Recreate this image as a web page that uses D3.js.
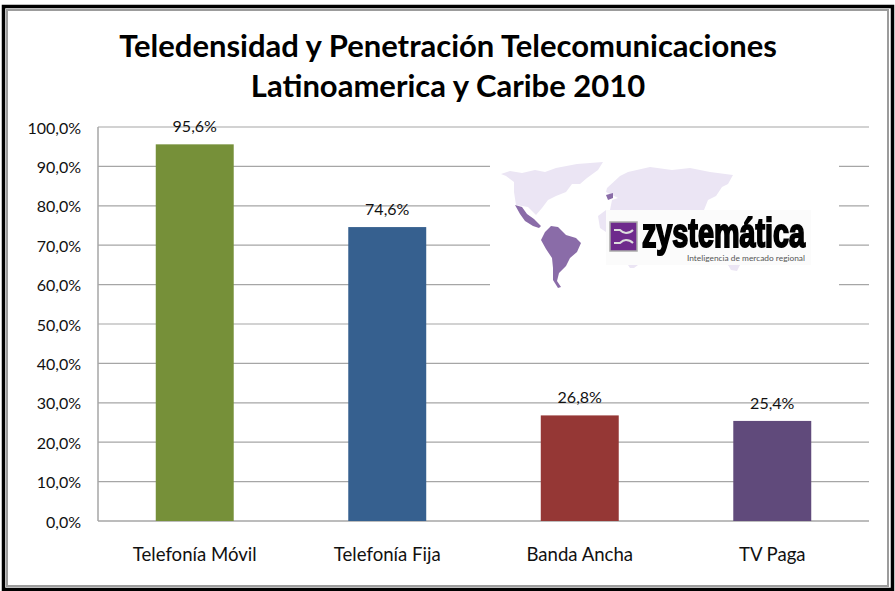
<!DOCTYPE html>
<html><head><meta charset="utf-8">
<script src="https://cdn.jsdelivr.net/npm/d3@7/dist/d3.min.js"></script>
<style>html,body{margin:0;padding:0;background:#fff}svg{display:block}text{font-family:Lato,"Open Sans",sans-serif}</style>
</head><body><svg id="c" width="895" height="591"></svg>
<script>
const categories = ["Telefonía Móvil","Telefonía Fija","Banda Ancha","TV Paga"];
const values = [95.6,74.6,26.8,25.4];
const valueLabels = ["95,6%","74,6%","26,8%","25,4%"];
const barColors = ["#769039","#36608f","#953735","#604a7b"];
const yTicks = [0,10,20,30,40,50,60,70,80,90,100];
const titleLines = ["Teledensidad y Penetración Telecomunicaciones","Latinoamerica y Caribe 2010"];

const svg = d3.select("#c");
const m = {l:98,r:869,t:127,b:521};
const x = d3.scaleBand().domain(categories).range([m.l,m.r]).paddingInner(0.595).paddingOuter(0.3);
const y = d3.scaleLinear().domain([0,100]).range([m.b,m.t]);

// frame
svg.append("rect").attr("x",3.5).attr("y",6.5).attr("width",889).attr("height",583).attr("fill","#fff").attr("stroke","#000").attr("stroke-width",3.5);
svg.append("rect").attr("x",7).attr("y",10).attr("width",881).attr("height",576).attr("fill","none").attr("stroke","#9c9c9c").attr("stroke-width",2);

// title
svg.selectAll("text.title").data(titleLines).join("text").attr("class","title")
  .attr("x",448).attr("y",(d,i)=>[57,97][i]).attr("text-anchor","middle")
  .attr("font-size",31).attr("font-weight",700).attr("fill","#000").text(d=>d);

// gridlines + axes
const yAxis = d3.axisLeft(y).tickValues(yTicks).tickSize(0).tickPadding(17).tickFormat(d=>d3.format(".1f")(d).replace(".",",")+"%");
const gy = svg.append("g").attr("transform",`translate(${m.l},1)`).call(yAxis);
gy.select(".domain").remove();
gy.selectAll("text").attr("font-size",16).attr("fill","#111").attr("font-family","Lato");
svg.append("line").attr("x1",m.l).attr("x2",m.l).attr("y1",m.t).attr("y2",m.b).attr("stroke","#a6a6a6").attr("stroke-width",1.5);
svg.append("g").selectAll("line").data(yTicks).join("line")
  .attr("x1",m.l).attr("x2",m.r).attr("y1",d=>y(d)).attr("y2",d=>y(d))
  .attr("stroke","#a6a6a6").attr("stroke-width",d=>d===0?1.5:1.2);

// bars
svg.append("g").selectAll("rect").data(values).join("rect")
  .attr("x",(d,i)=>x(categories[i])).attr("width",x.bandwidth())
  .attr("y",d=>y(d)).attr("height",d=>y(0)-y(d)).attr("fill",(d,i)=>barColors[i]);

// value labels
svg.append("g").selectAll("text").data(values).join("text")
  .attr("x",(d,i)=>x(categories[i])+x.bandwidth()/2).attr("y",d=>y(d)-12)
  .attr("text-anchor","middle").attr("font-size",16).attr("fill","#111").text((d,i)=>valueLabels[i]);

// category labels
const gx = svg.append("g").attr("transform",`translate(0,${m.b})`).call(d3.axisBottom(x).tickSize(0).tickPadding(26.5));
gx.select(".domain").remove();
gx.selectAll("text").attr("font-size",18.6).attr("fill","#111").attr("font-family","Lato");

// pasted logo image
const logo = svg.append("g");
logo.append("rect").attr("x",490).attr("y",150).attr("width",349).attr("height",147).attr("fill","#fff");
const defs = svg.append("defs");
defs.append("filter").attr("id","soft").append("feGaussianBlur").attr("stdDeviation",0.6);
const map = logo.append("g").attr("filter","url(#soft)");
const pale = "#ebe5f4", mid = "#8a6ca8";
[
 "M501,174 L510,171 L522,173 L535,170 L545,172 L556,168 L577,164 L603,162 L598,170 L587,178 L580,184 L572,184 L566,192 L556,196 L548,200 L542,208 L536,215 L528,207 L516,205 L514,192 L514,182 L506,176 Z",
 "M607,188 L620,176 L628,172 L650,167 L672,170 L690,168 L710,172 L733,175 L728,184 L722,187 L716,196 L708,200 L704,210 L610,210 L612,200 L618,198 L606,192 Z",
 "M598,216 L606,210 L606,232 L600,228 Z",
 "M628,265 L638,265 L634,268 L630,268 Z",
 "M728,265 L740,265 L737,271 L731,270 Z"
].forEach(d=>map.append("path").attr("d",d).attr("fill",pale));
[
 "M515,205 L522,207 L527,214 L534,219 L541,226 L539,228 L533,226 L525,221 L520,214 Z",
 "M545,232 L551,226 L558,227 L566,235 L576,238 L581,243 L577,252 L570,258 L566,266 L559,273 L557,281 L561,287 L558,288 L553,280 L553,268 L552,258 L546,249 L541,240 Z",
 "M606,195 L613,193 L613,198 L608,200 Z"
].forEach(d=>map.append("path").attr("d",d).attr("fill",mid));
logo.append("rect").attr("x",606).attr("y",210).attr("width",205).attr("height",55).attr("fill","#fbfbfb");
const mark = logo.append("g").attr("filter","url(#soft)");
mark.append("rect").attr("x",610).attr("y",222).attr("width",27).attr("height",29).attr("fill","#6e2c8c").attr("stroke","#aaa").attr("stroke-width",1.5);
mark.append("path").attr("d","M614,230 H620 Q623,233 626,233 Q630,233 633,230 M614,243 H620 Q623,240 626,240 Q630,240 633,243").attr("stroke","#ddd").attr("stroke-width",2).attr("fill","none");
mark.append("text").attr("x",642).attr("y",247).attr("font-size",40).attr("font-weight",700).style("font-family","'Liberation Sans'").attr("textLength",163).attr("lengthAdjust","spacingAndGlyphs").attr("fill","#000").attr("stroke","#000").attr("stroke-width",2).text("zystemática");
logo.append("text").attr("x",687).attr("y",261).attr("font-size",7).attr("textLength",118).attr("lengthAdjust","spacingAndGlyphs").attr("fill","#555").text("Inteligencia de mercado regional");
</script></body></html>
